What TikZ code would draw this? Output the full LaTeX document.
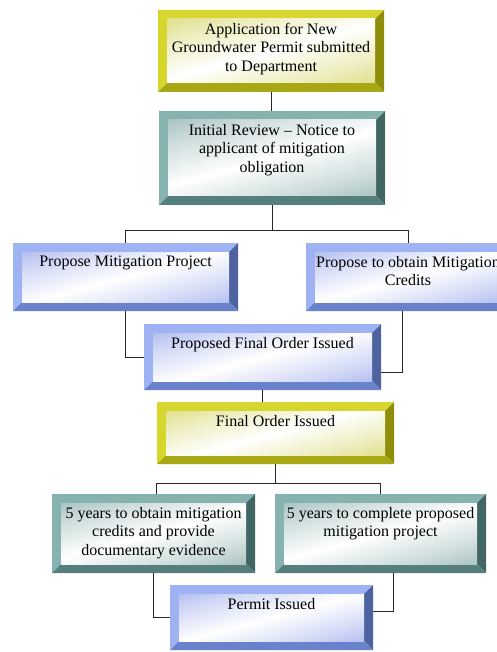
\documentclass[tikz,border=0pt]{standalone}
\usepackage{fontspec}
\setmainfont{Liberation Serif}

% palettes: light bevel, right bevel, bottom bevel, inner tint
\definecolor{yellight}{HTML}{D6D62E}
\definecolor{yelright}{HTML}{8E8E0A}
\definecolor{yelbottom}{HTML}{A8A814}
\definecolor{yelin}{HTML}{CACA3C}
\definecolor{teallight}{HTML}{86B2B0}
\definecolor{tealright}{HTML}{416664}
\definecolor{tealbottom}{HTML}{557F7D}
\definecolor{tealin}{HTML}{6E9A98}
\definecolor{blulight}{HTML}{9EB2F4}
\definecolor{bluright}{HTML}{4E62A0}
\definecolor{blubottom}{HTML}{6A82CC}
\definecolor{bluin}{HTML}{7F92E6}

\pgfdeclareverticalshading{yelband}{100bp}{color(0bp)=(yelin); color(30bp)=(yelin!35!white); color(50bp)=(white); color(70bp)=(yelin!35!white); color(100bp)=(yelin)}
\pgfdeclareverticalshading{tealband}{100bp}{color(0bp)=(tealin); color(30bp)=(tealin!35!white); color(50bp)=(white); color(70bp)=(tealin!35!white); color(100bp)=(tealin)}
\pgfdeclareverticalshading{bluband}{100bp}{color(0bp)=(bluin); color(30bp)=(bluin!35!white); color(50bp)=(white); color(70bp)=(bluin!35!white); color(100bp)=(bluin)}

\tikzset{
  boxframe/.style={rectangle,inner sep=0pt,outer sep=0pt},
  boxtext/.style={inner sep=0pt,align=center,font=\fontsize{16pt}{18.5pt}\selectfont},
  link/.style={draw=black!85,line width=1pt}
}

\newcommand{\bev}{9pt}
% name, x, y, width, height, palette, text
\newcommand{\bevelbox}[7]{%
  \node[boxframe,minimum width=#4pt,minimum height=#5pt,anchor=north west] (#1) at (#2,#3) {};
  \fill[#6light] (#1.south west) -- (#1.north west) -- (#1.north east)
    -- ([shift={(-\bev,-\bev)}]#1.north east) -- ([shift={(\bev,-\bev)}]#1.north west)
    -- ([shift={(\bev,\bev)}]#1.south west) -- cycle;
  \fill[#6right] (#1.north east) -- (#1.south east)
    -- ([shift={(-\bev,\bev)}]#1.south east) -- ([shift={(-\bev,-\bev)}]#1.north east) -- cycle;
  \fill[#6bottom] (#1.south west) -- (#1.south east)
    -- ([shift={(-\bev,\bev)}]#1.south east) -- ([shift={(\bev,\bev)}]#1.south west) -- cycle;
  \shade[shading=#6band,shading angle=15] ([shift={(\bev,-\bev)}]#1.north west) rectangle ([shift={(-\bev,\bev)}]#1.south east);
  \node[boxtext,anchor=north] at ([yshift=-\bev-4pt]#1.north) {#7};
}

\begin{document}
\begin{tikzpicture}[x=1pt,y=-1pt]
        \useasboundingbox (0,0) rectangle (497,652);
        \clip (0,0) rectangle (497,652);

        %%%%%%%%%% Boxes %%%%%%%%%%
        \bevelbox{app}{158}{10}{226}{82}{yel}{Application for New\\Groundwater Permit submitted\\to Department}
        \bevelbox{review}{159}{111}{226}{94}{teal}{Initial Review – Notice to\\applicant of mitigation\\obligation}
        \bevelbox{project}{13}{243}{225}{68}{blu}{Propose Mitigation Project}
        \bevelbox{credits}{306}{243}{204}{68}{blu}{Propose to obtain Mitigation\\Credits}
        \bevelbox{pfo}{144}{324}{237}{66}{blu}{Proposed Final Order Issued}
        \bevelbox{final}{157}{402}{237}{62}{yel}{Final Order Issued}
        \bevelbox{ycred}{52}{494}{203}{79}{teal}{5 years to obtain mitigation\\credits and provide\\documentary evidence}
        \bevelbox{yproj}{275}{494}{211}{79}{teal}{5 years to complete proposed\\mitigation project}
        \bevelbox{permit}{170}{585}{203}{65}{blu}{Permit Issued}

        %%%%%%%%% Lines %%%%%%%%%
        \draw[link] (app.south) -- (app.south |- review.north);
        \draw[link] (review.south) -- ++(0,25) -| (project.north);
        \draw[link] (review.south) -- ++(0,25) -| (credits.north);
        \draw[link] (project.south) |- (pfo.west);
        \draw[link] ([xshift=-6pt]credits.south) |- ([yshift=-15pt]pfo.east);
        \draw[link] (pfo.south) -- (pfo.south |- final.north);
        \draw[link] (final.south) -- ++(0,19) -| ([xshift=3pt]ycred.north);
        \draw[link] (final.south) -- ++(0,19) -| (yproj.north);
        \draw[link] (ycred.south) |- (permit.west);
        \draw[link] ([xshift=13pt]yproj.south) |- ([yshift=6pt]permit.east);
    \end{tikzpicture}
\end{document}
